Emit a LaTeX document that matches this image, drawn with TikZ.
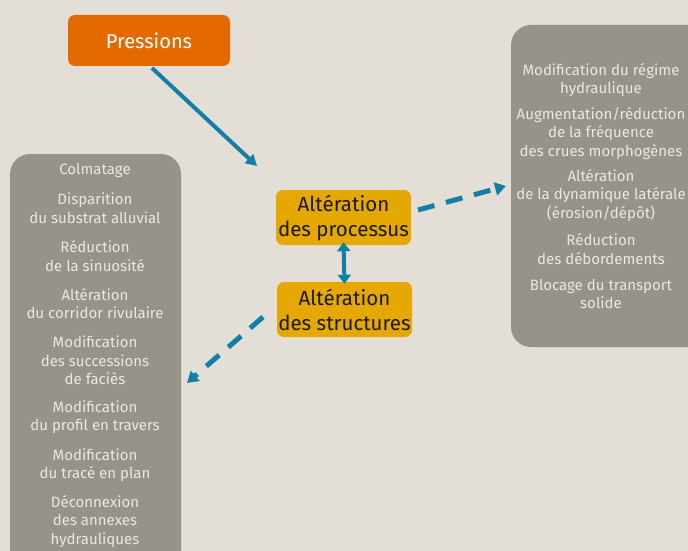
\documentclass[tikz,border=0pt]{standalone}
\usepackage{fontspec}
\setmainfont{Fira Sans}
\usetikzlibrary{arrows.meta}
\definecolor{bg}{HTML}{E4DFD6}
\definecolor{graybox}{HTML}{97928A}
\definecolor{orangebox}{HTML}{E46A00}
\definecolor{goldbox}{HTML}{E5A800}
\definecolor{bluearrow}{HTML}{1280A6}
\definecolor{graytext}{HTML}{ECE8E1}
\tikzset{
  listtext/.style={text=graytext, font=\fontsize{15}{18.5}\selectfont, align=center, inner sep=0pt},
  goldnode/.style={fill=goldbox, rounded corners=7pt, minimum width=135pt, minimum height=55pt, align=center, font=\fontsize{20.5}{25}\selectfont, text=black!90, inner sep=0pt},
  bluesolid/.style={draw=bluearrow, line width=4pt, -{Triangle[length=11pt,width=12pt]}},
  bluedash/.style={draw=bluearrow, line width=5pt, dash pattern=on 17pt off 12pt, -{Triangle[length=11pt,width=13pt]}},
}
\begin{document}
\begin{tikzpicture}[x=1pt,y=-1pt]
\fill[bg] (0,0) rectangle (688,551);
\useasboundingbox (0,0) rectangle (688,551);
% Pressions
\node[fill=orangebox, rounded corners=7pt, minimum width=162pt, minimum height=51pt, text=white, font=\fontsize{20}{24}\selectfont, inner sep=0pt] (press) at (149,40.5) {Pressions};
% gray boxes
\fill[graybox, rounded corners=20pt] (10,154) rectangle (181,575);
\fill[graybox, rounded corners=20pt] (511,25) rectangle (710,347);
% left texts
\node[listtext] (l1) at (95,170) {Colmatage};
\node[listtext] (l2) at (95,208) {Disparition\\du substrat alluvial};
\node[listtext] (l3) at (95,256) {Réduction\\de la sinuosité};
\node[listtext] (l4) at (95,303.5) {Altération\\du corridor rivulaire};
\node[listtext] (l5) at (95,360.5) {Modification\\des successions\\de faciès};
\node[listtext] (l6) at (95,417) {Modification\\du profil en travers};
\node[listtext] (l7) at (95,465) {Modification\\du tracé en plan};
\node[listtext] (l8) at (95,521.5) {Déconnexion\\des annexes\\hydrauliques};
% right texts
\node[listtext] (r1) at (601,80) {Modification du régime\\hydraulique};
\node[listtext] (r2) at (601,133.5) {Augmentation/réduction\\de la fréquence\\des crues morphogènes};
\node[listtext] (r3) at (601,195.5) {Altération\\de la dynamique latérale\\(érosion/dépôt)};
\node[listtext] (r4) at (601,249) {Réduction\\des débordements};
\node[listtext] (r5) at (601,294) {Blocage du transport\\solide};
% gold nodes
\node[goldnode] (proc) at (343.5,217.5) {Altération\\des processus};
\node[goldnode] (struc) at (344.5,309.5) {Altération\\des structures};
% arrows
\coordinate (a1s) at (152,68);
\coordinate (a1e) at (257,166);
\draw[bluesolid] (a1s) -- (a1e);
\draw[draw=bluearrow, line width=4pt, {Triangle[length=9pt,width=13pt]}-{Triangle[length=9pt,width=13pt]}] ([yshift=3pt]proc.south) -- ([yshift=-2pt]struc.north);
\coordinate (r0) at (418,210);
\coordinate (r9) at (506,186);
\draw[bluedash] (r0) -- (r9);
\coordinate (s0) at (263,317);
\coordinate (s9) at (187,383);
\draw[bluedash] (s0) -- (s9);
\end{tikzpicture}
\end{document}
